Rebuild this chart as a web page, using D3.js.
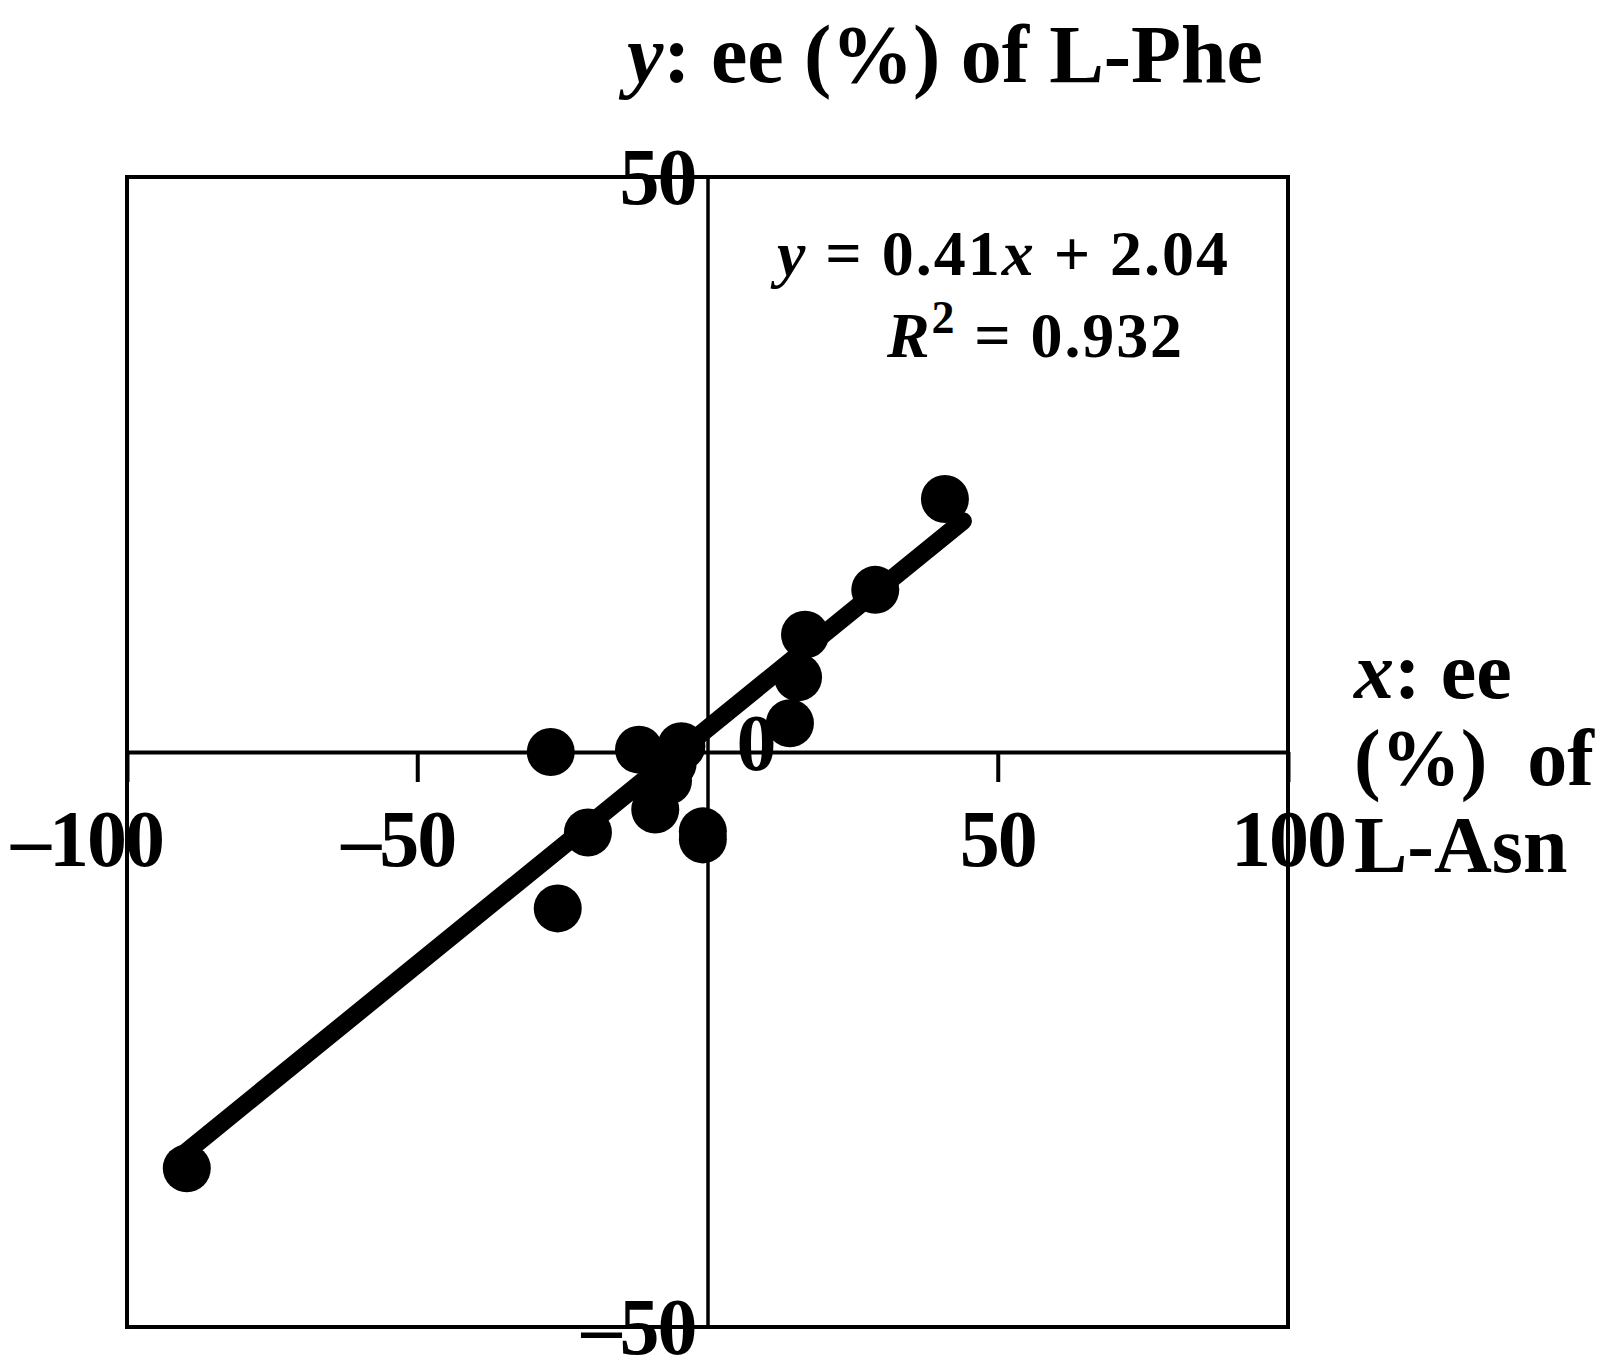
<!DOCTYPE html>
<html>
<head>
<meta charset="utf-8">
<script src="https://cdn.jsdelivr.net/npm/d3@7"></script>
<style>
  body { margin: 0; background: #fff; }
  text { font-family: "Liberation Serif", "Times New Roman", serif; font-weight: bold; fill: #000; }
</style>
</head>
<body>
<script>
// ee (%) of L-Asn (x) vs ee (%) of L-Phe (y)
var asnEe = [40.9, 28.9, 16.8, 15.6, 14.2, -27.0, -11.8, -4.5, -6.0, -6.8, -9.0, -20.6, -25.8, -0.8, -0.8, -89.7];
var pheEe = [22.0, 14.1, 10.2, 6.5, 2.5, 0.0, 0.2, 0.5, -1.0, -2.5, -5.0, -7.0, -13.6, -6.9, -7.6, -36.2];

var xTicks = [-100, -50, 50, 100];
var yTicks = [50, -50];

// trend line y = 0.41x + 2.04 drawn over this x span
var fitSlope = 0.41, fitIntercept = 2.04;
var fitSpan = [-90, 44];

var width = 1618, height = 1370;

var svg = d3.select("body").append("svg")
    .attr("width", width)
    .attr("height", height);

var x = d3.scaleLinear().domain([-100, 100]).range([127, 1288]);
var y = d3.scaleLinear().domain([50, -50]).range([177, 1327]);

// outer frame
svg.append("rect")
    .attr("x", x(-100))
    .attr("y", y(50))
    .attr("width", x(100) - x(-100))
    .attr("height", y(-50) - y(50))
    .attr("fill", "none")
    .attr("stroke", "#000")
    .attr("stroke-width", 4);

// x axis through y = 0
var xAxis = svg.append("g")
    .attr("transform", "translate(0," + y(0) + ")")
    .call(d3.axisBottom(x).tickValues(xTicks).tickSize(30).tickSizeOuter(0).tickFormat(""));
xAxis.select(".domain").attr("stroke", "#000").attr("stroke-width", 4);
xAxis.selectAll(".tick line").attr("stroke", "#000").attr("stroke-width", 4);

// y axis through x = 0
var yAxis = svg.append("g")
    .attr("transform", "translate(" + x(0) + ",0)")
    .call(d3.axisLeft(y).tickValues(yTicks).tickSize(0).tickSizeOuter(0).tickFormat(""));
yAxis.select(".domain").attr("stroke", "#000").attr("stroke-width", 3.5);

// trend line
svg.append("line")
    .attr("x1", x(fitSpan[0]))
    .attr("y1", y(fitSlope * fitSpan[0] + fitIntercept))
    .attr("x2", x(fitSpan[1]))
    .attr("y2", y(fitSlope * fitSpan[1] + fitIntercept))
    .attr("stroke", "#000")
    .attr("stroke-width", 18)
    .attr("stroke-linecap", "round");

// data points
svg.selectAll("circle.pt")
    .data(asnEe)
  .enter().append("circle")
    .attr("class", "pt")
    .attr("cx", function(d) { return x(d); })
    .attr("cy", function(d, i) { return y(pheEe[i]); })
    .attr("r", 24)
    .attr("fill", "#000");

// x tick labels: digits centred on the tick, minus sign hanging left
var tickFont = 80;
xTicks.forEach(function(t) {
  var g = svg.append("g");
  var num = g.append("text")
      .attr("x", x(t))
      .attr("y", y(0) + 114)
      .attr("text-anchor", "middle")
      .attr("letter-spacing", -2)
      .style("font-size", tickFont + "px")
      .text(Math.abs(t));
  if (t < 0) {
    var w = num.node().getComputedTextLength();
    g.append("text")
        .attr("x", x(t) - w / 2 + 2)
        .attr("y", y(0) + 114)
        .attr("text-anchor", "end")
        .style("font-size", tickFont + "px")
        .text("\u2013");
  }
  // the first label is pushed against the left page edge
  if (t === x.domain()[0]) {
    var bb = g.node().getBBox();
    g.attr("transform", "translate(" + (10 - bb.x) + ",0)");
  }
});

// y tick labels, right aligned against the y axis
yTicks.forEach(function(t) {
  svg.append("text")
      .attr("x", x(0) - 12)
      .attr("y", y(t) + 27)
      .attr("text-anchor", "end")
      .attr("letter-spacing", -2)
      .style("font-size", tickFont + "px")
      .text(t < 0 ? "\u2013" + Math.abs(t) : t);
});

// origin label
svg.append("text")
    .attr("x", x(0) + 49)
    .attr("y", y(0) + 18)
    .attr("text-anchor", "middle")
    .style("font-size", tickFont + "px")
    .text("0");

// y axis title
var yTitle = svg.append("text")
    .attr("x", 627)
    .attr("y", 82)
    .attr("textLength", 636)
    .attr("lengthAdjust", "spacing")
    .style("font-size", "82px");
yTitle.append("tspan").style("font-style", "italic").text("y");
yTitle.append("tspan").text(": ee (%) of L-Phe");

// x axis title, three lines at the right
var xTitleLines = [["x", ": ee"], ["", "(%)  of"], ["", "L-Asn"]];
xTitleLines.forEach(function(l, i) {
  var t = svg.append("text")
      .attr("x", 1354)
      .attr("y", 698 + i * 87)
      .style("font-size", "80px")
      .style("white-space", "pre");
  if (l[0]) t.append("tspan").style("font-style", "italic").text(l[0]);
  t.append("tspan").text(l[1]);
});

// regression equation
var eq1 = svg.append("text")
    .attr("x", 777)
    .attr("y", 275)
    .attr("textLength", 451)
    .attr("lengthAdjust", "spacing")
    .style("font-size", "64px");
eq1.append("tspan").style("font-style", "italic").text("y");
eq1.append("tspan").text(" = 0.41");
eq1.append("tspan").style("font-style", "italic").text("x");
eq1.append("tspan").text(" + 2.04");

var eq2 = svg.append("text")
    .attr("x", 887)
    .attr("y", 357)
    .attr("textLength", 295)
    .attr("lengthAdjust", "spacing")
    .style("font-size", "64px");
eq2.append("tspan").style("font-style", "italic").text("R");
eq2.append("tspan").attr("dy", -24).style("font-size", "46px").text("2");
eq2.append("tspan").attr("dy", 24).text(" = 0.932");
</script>
</body>
</html>
